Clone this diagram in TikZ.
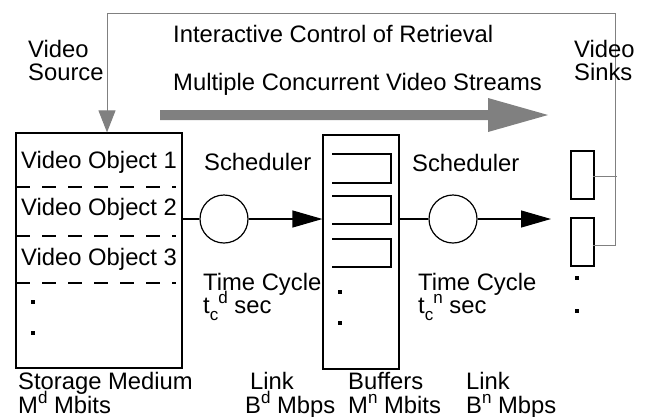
\documentclass[tikz,border=0pt]{standalone}
\usepackage{fontspec}
\setmainfont{Liberation Sans}
\usetikzlibrary{arrows.meta}
\definecolor{midgray}{RGB}{128,128,128}
\newcommand{\supsz}{\fontsize{17}{17}\selectfont}
\newcommand{\subsup}[3]{#1\raisebox{-0.3em}{\supsz #2}\raisebox{0.4em}{\supsz #3}}
\newcommand{\sups}[2]{#1\raisebox{0.4em}{\supsz #2}}
\begin{document}
\begin{tikzpicture}[x=1pt,y=-1pt,
  lbl/.style={anchor=base west,inner sep=0pt,font=\fontsize{23.8}{24}\selectfont},
  box/.style={draw,line width=1.2pt,rectangle,inner sep=0pt},
  sched/.style={draw,line width=1.2pt,circle,inner sep=0pt,minimum size=48pt},
  bin/.style={line width=1.2pt},
  sep/.style={line width=1.2pt,dash pattern=on 14pt off 12pt},
  dotmark/.style={fill=black,draw=none,inner sep=0pt,minimum size=4.5pt,rectangle},
  flow/.style={line width=1.2pt,-{Triangle[length=30pt,width=17pt]}},
  ctrl/.style={draw=midgray,line width=1pt}]
\useasboundingbox (0,0) rectangle (645,416);
% storage
\node[box,minimum width=166pt,minimum height=235pt] (stor) at (99,250.5) {};
\draw[sep] (16,187) -- (176,187);
\draw[sep] (16,236) -- (176,236);
\draw[sep] (16,283) -- (176,283);
\node[lbl] (vo1) at (21,168) {Video Object 1};
\node[lbl] (vo2) at (21,215) {Video Object 2};
\node[lbl] (vo3) at (21,265) {Video Object 3};
\node[dotmark] (sd1) at (33,302) {};
\node[dotmark] (sd2) at (33,333) {};
% schedulers
\node[sched] (c1) at (224,219) {};
\node[sched] (c2) at (453,219) {};
% buffer
\node[box,minimum width=76pt,minimum height=234pt] (buf) at (361,252) {};
\draw[bin] (332,154) -- (391,154) -- (391,183) -- (332,183);
\draw[bin] (332,196) -- (391,196) -- (391,224) -- (332,224);
\draw[bin] (332,239) -- (391,239) -- (391,267) -- (332,267);
\node[dotmark] (bd1) at (340,292) {};
\node[dotmark] (bd2) at (340,323) {};
% sinks
\node[box,minimum width=23pt,minimum height=48pt] (s1) at (582.5,175) {};
\node[box,minimum width=23pt,minimum height=48pt] (s2) at (582.5,242) {};
\node[dotmark] (kd1) at (577,278) {};
\node[dotmark] (kd2) at (577,311) {};
\coordinate (a2) at (551,219);
% connectors
\draw[line width=1.2pt] (stor.east |- c1) -- (c1.west);
\draw[flow] (c1.east) -- (c1 -| buf.west);
\draw[line width=1.2pt] (buf.east |- c2) -- (c2.west);
\draw[flow] (c2.east) -- (a2);
% control loop
\coordinate (tr) at (615,13);
\coordinate (tl) at (107,13);
\coordinate (s1e) at (617,176);
\draw[ctrl] ([xshift=-2pt,yshift=-1pt]s1.east) -- (s1e);
\draw[ctrl,-{Triangle[length=22pt,width=17pt]},midgray] ([xshift=-2pt,yshift=-3pt]s2.east) -| (tr) -- (tl) -- (tl |- stor.north);
% big arrow
\fill[midgray] (160,110) -- (488,110) -- (488,98) -- (548,115) -- (488,132) -- (488,120) -- (160,120) -- cycle;
% labels
\node[lbl] (vs1) at (28,57) {Video};
\node[lbl] (vs2) at (28,80) {Source};
\node[lbl] (ic) at (173,42) {Interactive Control of Retrieval};
\node[lbl] (mc) at (173,90) {Multiple Concurrent Video Streams};
\node[lbl] (vk1) at (574,57) {Video};
\node[lbl] (vk2) at (574,80) {Sinks};
\node[lbl] (sc1) at (204,170) {Scheduler};
\node[lbl] (sc2) at (412,171) {Scheduler};
\node[lbl] (tc1) at (203,290) {Time Cycle};
\node[lbl] (tt1) at (203,313) {\subsup{t}{c}{d} sec};
\node[lbl] (tc2) at (418,290) {Time Cycle};
\node[lbl] (tt2) at (418,313) {\subsup{t}{c}{n} sec};
\node[lbl] (sm1) at (18,389) {Storage Medium};
\node[lbl] (sm2) at (18,413) {\sups{M}{d} Mbits};
\node[lbl] (l1a) at (250,389) {Link};
\node[lbl] (l1b) at (245,413) {\sups{B}{d} Mbps};
\node[lbl] (bf1) at (348,389) {Buffers};
\node[lbl] (bf2) at (348,413) {\sups{M}{n} Mbits};
\node[lbl] (l2a) at (466,389) {Link};
\node[lbl] (l2b) at (466,413) {\sups{B}{n} Mbps};
\end{tikzpicture}
\end{document}
